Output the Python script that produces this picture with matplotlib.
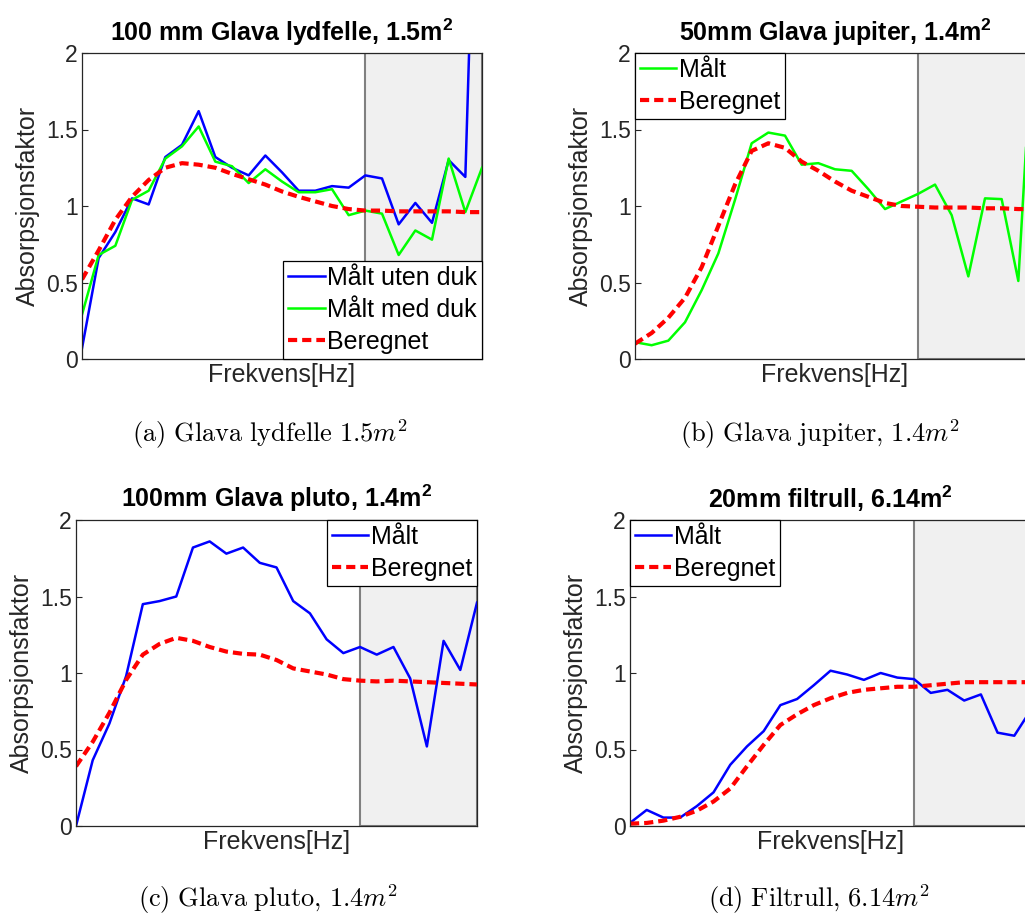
import numpy as np
import matplotlib
matplotlib.use('Agg')
from matplotlib import pyplot as plt
from matplotlib.patches import Rectangle

plt.rcParams['font.family'] = ['Liberation Sans', 'DejaVu Sans']
plt.rcParams['mathtext.fontset'] = 'custom'
plt.rcParams['mathtext.rm'] = 'Liberation Sans'
plt.rcParams['mathtext.bf'] = 'Liberation Sans:bold'
plt.rcParams['mathtext.it'] = 'Liberation Sans:italic'

# frekvensband (indeks langs x-aksen), ingen tall paa aksen
band = np.arange(25)
grense = 17   # fra her er maalingene usikre (graa omraade)

#####Data
# (a) 100 mm Glava lydfelle
lydfelle_uten = [0.07, 0.66, 0.83, 1.05, 1.01, 1.32, 1.40, 1.62, 1.32, 1.25, 1.20, 1.33, 1.22,
                 1.10, 1.10, 1.13, 1.12, 1.20, 1.18, 0.88, 1.02, 0.89, 1.30, 1.19, 4.8]
lydfelle_med = [0.29, 0.68, 0.74, 1.04, 1.10, 1.31, 1.39, 1.52, 1.29, 1.26, 1.15, 1.24, 1.16,
                1.09, 1.09, 1.11, 0.94, 0.97, 0.95, 0.68, 0.84, 0.78, 1.31, 0.96, 1.25]
lydfelle_ber = [0.52, 0.71, 0.91, 1.06, 1.17, 1.25, 1.28, 1.27, 1.25, 1.21, 1.175, 1.14, 1.095,
                1.06, 1.03, 1.00, 0.98, 0.97, 0.97, 0.965, 0.965, 0.965, 0.965, 0.96, 0.96]

# (b) 50mm Glava jupiter
jupiter_maalt = [0.11, 0.09, 0.12, 0.24, 0.45, 0.69, 1.04, 1.41, 1.48, 1.46, 1.27, 1.28, 1.24,
                 1.23, 1.11, 0.98, 1.03, 1.08, 1.14, 0.94, 0.54, 1.05, 1.045, 0.51, 2.4]
jupiter_ber = [0.10, 0.17, 0.27, 0.40, 0.60, 0.87, 1.14, 1.36, 1.41, 1.38, 1.29, 1.23, 1.16,
               1.10, 1.06, 1.02, 1.00, 0.995, 0.99, 0.99, 0.99, 0.985, 0.985, 0.98, 0.98]

# (c) 100mm Glava pluto
pluto_maalt = [0.0, 0.43, 0.67, 0.98, 1.45, 1.47, 1.50, 1.82, 1.86, 1.78, 1.82, 1.72, 1.69,
               1.47, 1.39, 1.22, 1.13, 1.17, 1.12, 1.17, 0.965, 0.52, 1.21, 1.02, 1.46]
pluto_ber = [0.39, 0.55, 0.74, 0.955, 1.12, 1.19, 1.23, 1.21, 1.17, 1.14, 1.125, 1.12, 1.085,
             1.03, 1.01, 0.99, 0.96, 0.95, 0.945, 0.95, 0.945, 0.94, 0.935, 0.93, 0.925]

# (d) 20mm filtrull
filtrull_maalt = [0.02, 0.105, 0.055, 0.055, 0.13, 0.22, 0.40, 0.52, 0.62, 0.79, 0.83, 0.92, 1.015,
                  0.99, 0.955, 1.00, 0.97, 0.96, 0.87, 0.89, 0.82, 0.86, 0.61, 0.59, 0.76]
filtrull_ber = [0.015, 0.02, 0.035, 0.06, 0.10, 0.16, 0.245, 0.39, 0.53, 0.66, 0.73, 0.79, 0.835,
                0.87, 0.89, 0.90, 0.91, 0.91, 0.92, 0.93, 0.94, 0.94, 0.94, 0.94, 0.94]

titler = ['100 mm Glava lydfelle, 1.5m$^{\\mathbf{2}}$',
          '50mm Glava jupiter, 1.4m$^{\\mathbf{2}}$',
          '100mm Glava pluto, 1.4m$^{\\mathbf{2}}$',
          '20mm filtrull, 6.14m$^{\\mathbf{2}}$']
undertekster = [r'$\mathrm{(a)\ Glava\ lydfelle}\ 1.5m^2$',
                r'$\mathrm{(b)\ Glava\ jupiter{,}}\ 1.4m^2$',
                r'$\mathrm{(c)\ Glava\ pluto{,}}\ 1.4m^2$',
                r'$\mathrm{(d)\ Filtrull{,}}\ 6.14m^2$']

dash = (0, (2.2, 1.2))
tekstfarge = '#262626'


def panel(ax, tittel, serier, loc):
    ax.add_patch(Rectangle((grense, 0), band[-1] - grense, 2, facecolor='#f0f0f0',
                           edgecolor='#808080', lw=1.5, zorder=0))
    for y, farge, lw, ls, navn in serier:
        ax.plot(band, y, color=farge, lw=lw, linestyle=ls, label=navn, zorder=2)
    ax.set_xlim(band[0], band[-1])
    ax.set_ylim(0, 2)
    ax.set_xticks([])
    ax.set_yticks([0, 0.5, 1, 1.5, 2])
    ax.set_yticklabels(['0', '0.5', '1', '1.5', '2'])
    ax.tick_params(axis='y', direction='in', length=4, labelsize=16.5, colors=tekstfarge,
                   labelcolor=tekstfarge, pad=3)
    ax.set_ylabel('Absorpsjonsfaktor', fontsize=18, color=tekstfarge, labelpad=4)
    ax.set_xlabel('Frekvens[Hz]', fontsize=18, color=tekstfarge, labelpad=3)
    ax.set_title(tittel, fontsize=18, fontweight='bold', pad=9)
    for s in ax.spines.values():
        s.set_color(tekstfarge)
        s.set_linewidth(0.9)
        s.set_zorder(3)
    leg = ax.legend(loc=loc, fontsize=18, borderaxespad=0, fancybox=False, framealpha=1,
                    edgecolor='black', handlelength=1.45, handletextpad=0.1,
                    labelspacing=0.32, borderpad=0.2)
    leg.get_frame().set_linewidth(0.9)
    leg.set_zorder(5)


fig = plt.figure(figsize=(10.25, 9.15), dpi=100)
W, H = 1025.0, 915.0

ax_a = fig.add_axes([82 / W, (H - 359) / H, 400 / W, 306 / H])
ax_b = fig.add_axes([635 / W, (H - 359) / H, 400 / W, 306 / H])
ax_c = fig.add_axes([76 / W, (H - 826) / H, 401 / W, 306 / H])
ax_d = fig.add_axes([630 / W, (H - 826) / H, 401 / W, 306 / H])

panel(ax_a, titler[0],
      [(lydfelle_uten, '#0000ff', 1.8, '-', 'Målt uten duk'),
       (lydfelle_med, '#00ff00', 1.8, '-', 'Målt med duk'),
       (lydfelle_ber, '#ff0000', 3.0, dash, 'Beregnet')], 'lower right')
panel(ax_b, titler[1],
      [(jupiter_maalt, '#00ff00', 1.8, '-', 'Målt'),
       (jupiter_ber, '#ff0000', 3.0, dash, 'Beregnet')], 'upper left')
panel(ax_c, titler[2],
      [(pluto_maalt, '#0000ff', 1.8, '-', 'Målt'),
       (pluto_ber, '#ff0000', 3.0, dash, 'Beregnet')], 'upper right')
panel(ax_d, titler[3],
      [(filtrull_maalt, '#0000ff', 1.8, '-', 'Målt'),
       (filtrull_ber, '#ff0000', 3.0, dash, 'Beregnet')], 'upper left')

# undertekster (LaTeX-stil), plassert paa grunnlinjen
pos = [(270, 442), (820, 442), (268, 907), (819, 907)]
for (x, y), t in zip(pos, undertekster):
    fig.text(x / W, (H - y) / H, t, ha='center', va='baseline', fontsize=19,
             math_fontfamily='cm', color='black')

fig.savefig('out.png', dpi=100)
